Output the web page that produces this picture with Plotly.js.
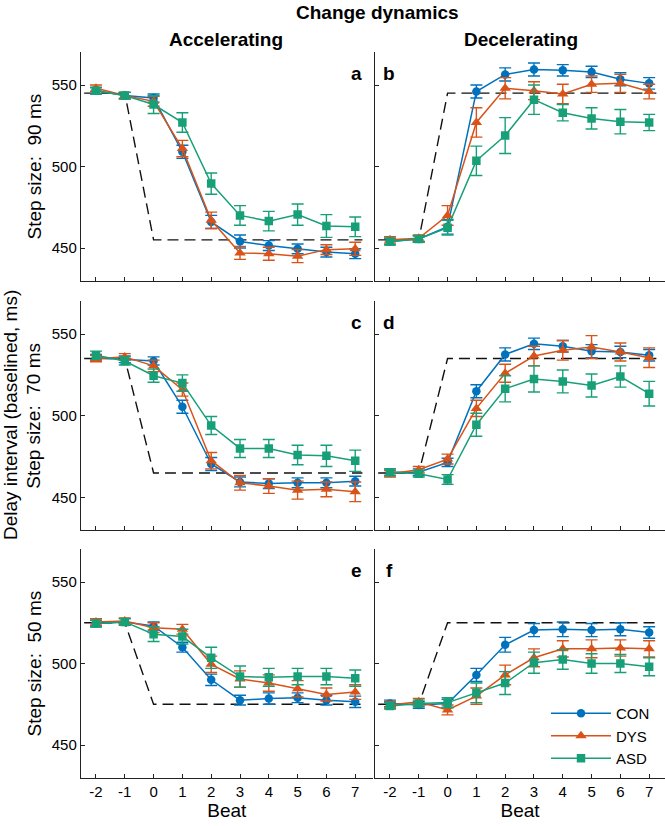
<!DOCTYPE html>
<html>
<head>
<meta charset="utf-8">
<script src="https://cdn.plot.ly/plotly-3.0.1.min.js"></script>
<style>
  body { margin: 0; background: #fff; }
  #chart { width: 665px; height: 826px; }
</style>
</head>
<body>
<div id="chart"></div>
<script>
"use strict";
var W = 665, H = 826;

var beats = [-2, -1, 0, 1, 2, 3, 4, 5, 6, 7];
var xTickVals = [-2, -1, 0, 1, 2, 3, 4, 5, 6, 7];
var xTickText = ['-2', '-1', '0', '1', '2', '3', '4', '5', '6', '7'];
var yTickVals = [450, 500, 550];
var groups = ['CON', 'DYS', 'ASD'];
var groupColors = ['#0072BD', '#D95319', '#17A078'];
var groupSymbols = ['circle', 'triangle-up', 'square'];

// step size 90 ms
var conA = [546.5, 543.5, 542, 509, 466, 454, 451.5, 449.5, 447.5, 446.5];
var conAErr = [2, 2, 2.5, 4, 4, 4, 3, 3, 3, 3];
var dysA = [548, 543.5, 540, 511, 467, 447, 446.5, 445, 449, 449.5];
var dysAErr = [2, 2, 3, 5, 5, 4, 4, 4, 3, 4];
var asdA = [546.5, 543.5, 538, 527, 489.5, 470, 466.5, 470.5, 463.5, 463];
var asdAErr = [2, 2, 5.5, 6, 6.5, 6, 6, 6.5, 7, 6];

var conB = [454, 455.5, 463, 546, 556.5, 559.5, 559, 558, 553.5, 551];
var conBErr = [2, 2, 4.5, 4, 4, 4, 3.5, 3.5, 4, 3.5];
var dysB = [455, 456, 470, 527, 548, 546.5, 544.5, 550.5, 551, 546];
var dysBErr = [2, 2, 6, 9, 6.5, 5.5, 6, 5, 5.5, 4.5];
var asdB = [454, 455.5, 462.5, 503.5, 519, 541, 533, 529.5, 527.5, 527];
var asdBErr = [2, 2, 4.5, 9, 11, 9, 5, 6.5, 7.5, 5];

// step size 70 ms
var conC = [535.5, 534.5, 533.5, 505.5, 470.5, 459.5, 458.5, 459, 459, 460];
var conCErr = [2, 2, 2.5, 4, 4, 3, 3, 3, 3, 3];
var dysC = [535, 536, 530.5, 516, 472.5, 459, 457, 454.5, 455, 453.5];
var dysCErr = [2, 2, 3.5, 4, 5, 4.5, 4.5, 5.5, 4.5, 6];
var asdC = [537, 533.5, 524.5, 520, 494, 480, 480, 476, 475.5, 472.5];
var asdCErr = [2.5, 2.5, 4, 5, 5.5, 5.5, 5.5, 6, 6.5, 6.5];

var conD = [465.5, 465.5, 471.5, 515, 537.5, 544, 542.5, 539.5, 539, 537];
var conDErr = [2, 2, 2.5, 4, 4, 3.5, 3.5, 4, 3.5, 3.5];
var dysD = [464.5, 467, 473.5, 504.5, 526, 536.5, 540, 542, 539, 535.5];
var dysDErr = [2, 2, 3, 5, 5.5, 6, 6, 7, 5.5, 6];
var asdD = [465.5, 464.5, 461, 494.5, 516.5, 522.5, 521, 518.5, 524, 513.5];
var asdDErr = [2, 2, 3, 7, 8, 8, 7, 7, 6.5, 7.5];

// step size 50 ms
var conE = [524.5, 525.5, 523, 510, 490, 477.5, 478.5, 479, 477.5, 476.5];
var conEErr = [2, 2, 2.5, 3, 3.5, 3, 3.5, 3, 3, 3.5];
var dysE = [525.5, 526, 522, 521, 499.5, 490.5, 488, 484.5, 481, 482.5];
var dysEErr = [2, 2, 3, 3, 5, 5, 5, 5, 4, 4.5];
var asdE = [524.5, 525.5, 518, 516.5, 503.5, 492, 491.5, 492, 492, 491];
var asdEErr = [2, 2, 4.5, 4.5, 6.5, 6.5, 5.5, 5, 5, 5];

var conF = [475.5, 474.5, 475.5, 493, 511.5, 520.5, 521, 520.5, 521, 519];
var conFErr = [2, 2, 2.5, 4, 4.5, 4, 4.5, 4, 4, 3.5];
var dysF = [474.5, 476.5, 471.5, 480, 493, 503.5, 509, 509, 509.5, 509];
var dysFErr = [2, 2, 3, 5, 6, 5.5, 5, 5.5, 5, 5];
var asdF = [474, 475.5, 476, 482, 488, 500.5, 502.5, 500, 500, 498];
var asdFErr = [2, 2, 3, 6, 7, 6.5, 6, 6, 5.5, 5.5];

// target (metronome) delay profile
var stepX = [-3, -1, 0, 7.25];
var stepA = [545, 545, 455, 455];
var stepB = [455, 455, 545, 545];
var stepC = [535, 535, 465, 465];
var stepD = [465, 465, 535, 535];
var stepE = [525, 525, 475, 475];
var stepF = [475, 475, 525, 525];

var panelLetters = ['a', 'b', 'c', 'd', 'e', 'f'];
var rowLabels = ['Step size:  90 ms', 'Step size:  70 ms', 'Step size:  50 ms'];

var panels = [
	{ means: [conA, dysA, asdA], errs: [conAErr, dysAErr, asdAErr], step: stepA },
	{ means: [conB, dysB, asdB], errs: [conBErr, dysBErr, asdBErr], step: stepB },
	{ means: [conC, dysC, asdC], errs: [conCErr, dysCErr, asdCErr], step: stepC },
	{ means: [conD, dysD, asdD], errs: [conDErr, dysDErr, asdDErr], step: stepD },
	{ means: [conE, dysE, asdE], errs: [conEErr, dysEErr, asdEErr], step: stepE },
	{ means: [conF, dysF, asdF], errs: [conFErr, dysFErr, asdFErr], step: stepF }
];

function px(x) { return x / W; }
function py(y) { return 1 - y / H; }

// pixel boxes of the panels
var colX = [[81, 372.5], [375, 665]];
var colRange = [[-2.52, 7.6], [-2.52, 7.55]];
var rowY = [[52.4, 280.6], [301.3, 530.2], [549.4, 777.6]];

var FONT = 'Liberation Sans, Arial, Helvetica, sans-serif';

var data = [];
var layout = {
	width: W,
	height: H,
	margin: { l: 0, r: 0, t: 0, b: 0 },
	paper_bgcolor: '#fff',
	plot_bgcolor: 'rgba(0,0,0,0)',
	font: { family: FONT, size: 15, color: '#000' },
	showlegend: true,
	legend: {
		x: px(546), y: py(697), xanchor: 'left', yanchor: 'top',
		bgcolor: 'rgba(0,0,0,0)',
		font: { family: FONT, size: 15, color: '#000' },
		itemwidth: 60,
		tracegroupgap: 0
	},
	annotations: [],
	hovermode: false
};

for (var p = 0; p < 6; p++) {
	var col = p % 2;
	var row = Math.floor(p / 2);
	var suf = p === 0 ? '' : String(p + 1);
	var xa = 'x' + suf, ya = 'y' + suf;

	layout['xaxis' + suf] = {
		domain: [px(colX[col][0]), px(colX[col][1])],
		range: colRange[col],
		anchor: ya,
		tickvals: xTickVals,
		ticktext: xTickText,
		ticks: 'inside',
		ticklen: 4,
		tickcolor: '#222',
		showticklabels: row === 2,
		tickfont: { size: 15 },
		showgrid: false,
		zeroline: false,
		showline: true,
		linecolor: '#222',
		linewidth: 1.2,
		title: row === 2 ? { text: 'Beat', font: { size: 19 }, standoff: 4 } : { text: '' }
	};
	layout['yaxis' + suf] = {
		domain: [py(rowY[row][1]), py(rowY[row][0])],
		range: [430, 570],
		anchor: xa,
		tickvals: yTickVals,
		ticks: 'inside',
		ticklen: 4,
		tickcolor: '#222',
		showticklabels: col === 0,
		tickfont: { size: 15 },
		showgrid: false,
		zeroline: false,
		showline: true,
		linecolor: '#222',
		linewidth: 1.2
	};

	data.push({
		x: stepX,
		y: panels[p].step,
		xaxis: xa, yaxis: ya,
		type: 'scatter',
		mode: 'lines',
		line: { color: '#111', width: 1.4, dash: '11px,6px' },
		showlegend: false,
		hoverinfo: 'skip'
	});

	for (var g = 0; g < 3; g++) {
		data.push({
			x: beats,
			y: panels[p].means[g],
			xaxis: xa, yaxis: ya,
			name: groups[g],
			legendgroup: groups[g],
			showlegend: p === 5,
			type: 'scatter',
			mode: 'lines+markers',
			line: { color: groupColors[g], width: 1.5 },
			marker: { color: groupColors[g], symbol: groupSymbols[g], size: g === 1 ? 10 : 8.5 },
			error_y: {
				type: 'data',
				array: panels[p].errs[g],
				visible: true,
				color: groupColors[g],
				thickness: 1.4,
				width: 6
			}
		});
	}

	var lx = col === 0 ? colX[0][1] - 16 : colX[1][0] + 14;
	var ly = rowY[row][0] + 21;
	layout.annotations.push({
		text: '<b>' + panelLetters[p] + '</b>',
		xref: 'paper', yref: 'paper',
		x: px(lx), y: py(ly),
		xanchor: 'center', yanchor: 'middle',
		showarrow: false,
		font: { size: 19 }
	});
}

for (var r = 0; r < 3; r++) {
	layout.annotations.push({
		text: rowLabels[r],
		xref: 'paper', yref: 'paper',
		x: px(34), y: py((rowY[r][0] + rowY[r][1]) / 2),
		xanchor: 'center', yanchor: 'middle',
		textangle: -90,
		showarrow: false,
		font: { size: 19 }
	});
}

layout.annotations.push({
	text: 'Delay interval (baselined, ms)',
	xref: 'paper', yref: 'paper',
	x: px(10), y: py(415),
	xanchor: 'center', yanchor: 'middle',
	textangle: -90,
	showarrow: false,
	font: { size: 19 }
});

layout.annotations.push({
	text: '<b>Change dynamics</b>',
	xref: 'paper', yref: 'paper',
	x: px(377), y: py(12),
	xanchor: 'center', yanchor: 'middle',
	showarrow: false,
	font: { size: 19 }
});
layout.annotations.push({
	text: '<b>Accelerating</b>',
	xref: 'paper', yref: 'paper',
	x: px(226), y: py(40),
	xanchor: 'center', yanchor: 'middle',
	showarrow: false,
	font: { size: 19 }
});
layout.annotations.push({
	text: '<b>Decelerating</b>',
	xref: 'paper', yref: 'paper',
	x: px(521), y: py(40),
	xanchor: 'center', yanchor: 'middle',
	showarrow: false,
	font: { size: 19 }
});

Plotly.newPlot(document.getElementById('chart'), data, layout, { staticPlot: true });
</script>
</body>
</html>
